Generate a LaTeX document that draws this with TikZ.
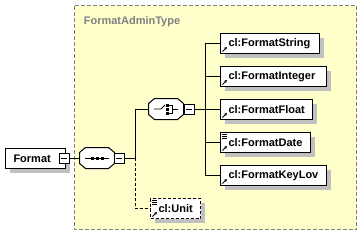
\documentclass[tikz,border=0pt]{standalone}
\usepackage{fontspec}
\setmainfont{Liberation Sans}
\usetikzlibrary{shadows,arrows.meta}
\definecolor{bgyel}{RGB}{255,255,204}
\definecolor{framegray}{RGB}{128,128,128}
\definecolor{shad}{RGB}{192,192,192}
\begin{document}
\begin{tikzpicture}[x=1pt,y=-1pt,line width=1pt,
  lbl/.style={font=\fontsize{11}{13}\selectfont\bfseries},
  sh/.style={drop shadow={shadow xshift=4pt,shadow yshift=-4pt,fill=shad,opacity=1,draw=none}},
  elem/.style={draw,fill=white,sh,lbl,minimum height=20pt,inner ysep=0pt,anchor=north west,align=left,inner xsep=8pt},
  optelem/.style={elem,dash pattern=on 3pt off 2pt},
  minusbox/.style={draw,fill=white,minimum size=10pt,inner sep=0pt,
    path picture={\draw[line width=0.8pt] ([xshift=-3pt]path picture bounding box.center) -- ([xshift=3pt]path picture bounding box.center);}},
  octa/.style={minimum width=34pt,minimum height=20pt,inner sep=0pt},
  refarrow/.style={line width=0.8pt,-{Stealth[length=3pt,width=3pt]}},
  conn/.style={line width=1pt}
]
\useasboundingbox (0,0) rectangle (362,236);
% type box
\draw[fill=bgyel,draw=framegray,dash pattern=on 4pt off 2pt] (74.5,5.5) rectangle (356.5,229.5);
\node[lbl,text=framegray,anchor=base west] (title) at (80,24) {FormatAdminType};

% root
\node[elem,text width=44pt] (format) at (5,148) {Format};
\node[minusbox] (fm) at (64,158) {};

% sequence & choice octagons
\node[octa] (seq) at (97,158) {};
\node[octa] (cho) at (166,109) {};
\foreach \n in {seq,cho}{
  \fill[shad,shift={(4,4)}] ([xshift=6pt]\n.north west) -- ([xshift=-6pt]\n.north east) -- ([yshift=-5pt]\n.north east) -- ([yshift=5pt]\n.south east) -- ([xshift=-6pt]\n.south east) -- ([xshift=6pt]\n.south west) -- ([yshift=5pt]\n.south west) -- ([yshift=-5pt]\n.north west) -- cycle;
  \draw[fill=white] ([xshift=6pt]\n.north west) -- ([xshift=-6pt]\n.north east) -- ([yshift=-5pt]\n.north east) -- ([yshift=5pt]\n.south east) -- ([xshift=-6pt]\n.south east) -- ([xshift=6pt]\n.south west) -- ([yshift=5pt]\n.south west) -- ([yshift=-5pt]\n.north west) -- cycle;
}
\node[minusbox] (sm) at (119,158) {};
\node[minusbox] (cm) at (189,109) {};

% sequence icon
\draw[line width=0.8pt] ([xshift=-12pt]seq.center) -- ([xshift=12pt]seq.center);
\foreach \dx in {-5,0,5}{\fill ([shift={(\dx-1.5,-1.5)}]seq.center) rectangle +(3,3);}

% choice icon
\draw[line width=0.8pt] ([xshift=-12pt]cho.center) -- ([xshift=-5pt]cho.center) -- ([shift={(-1,-4)}]cho.center);
\foreach \dy in {-4,0,4}{\fill ([shift={(0,\dy-1.5)}]cho.center) rectangle +(3,3);}
\draw[line width=0.8pt] ([shift={(3,-4)}]cho.center) -- ([shift={(6,-4)}]cho.center) -- ([shift={(6,4)}]cho.center) -- ([shift={(3,4)}]cho.center);
\draw[line width=0.8pt] ([shift={(6,0)}]cho.center) -- ([shift={(12,0)}]cho.center);

% children
\node[elem,text width=83pt] (c1) at (220,33) {cl:FormatString};
\node[elem,text width=90pt] (c2) at (220,66) {cl:FormatInteger};
\node[elem,text width=76pt] (c3) at (220,99) {cl:FormatFloat};
\node[elem,text width=74pt] (c4) at (220,132) {cl:FormatDate};
\node[elem,text width=90pt] (c5) at (220,165) {cl:FormatKeyLov};
\node[optelem,text width=34pt] (unit) at (150,198) {cl:Unit};

% reference arrows
\foreach \n in {c1,c2,c3,c4,c5,unit}{
  \draw[refarrow] ([shift={(2.5,-2.5)}]\n.south west) -- ([shift={(7,-7)}]\n.south west);
}
% simple-type lines
\foreach \n in {c4,unit}{
  \foreach \dy in {2.5,4.5,6.5}{
    \draw[line width=0.7pt] ([shift={(2,\dy)}]\n.north west) -- ([shift={(7,\dy)}]\n.north west);
  }
}

% connectors
\draw[conn] (fm.east) -- (seq.west);
\coordinate (j1) at (135,158);
\draw[conn] (sm.east) -- (j1) |- (cho.west);
\draw[conn,dash pattern=on 3pt off 2pt] (j1) |- (unit.west);
\coordinate (j2) at (205,109);
\draw[conn] (cm.east) -- (j2);
\foreach \n in {c1,c2,c3,c4,c5}{\draw[conn] (j2) |- (\n.west);}
\end{tikzpicture}
\end{document}
